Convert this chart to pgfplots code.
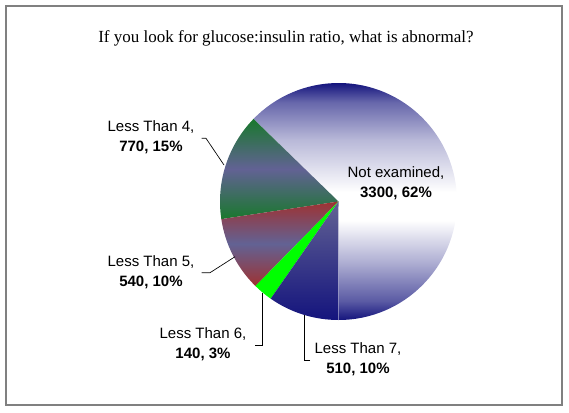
\documentclass[border=0pt]{standalone}
\usepackage{pgfplots}
\usepackage{pgfplotstable}
\pgfplotsset{compat=1.18}
\usepackage{fontspec}
\setmainfont{Liberation Sans}
\newfontfamily\titlefont{Liberation Serif}

\definecolor{navyE}{RGB}{20,20,125}
\definecolor{slateE}{RGB}{98,98,148}
\definecolor{greenE}{RGB}{25,120,45}
\definecolor{redE}{RGB}{158,50,50}
\definecolor{limeE}{RGB}{0,255,0}
\definecolor{frameE}{RGB}{128,128,128}

% navy - white - navy band, bbox mapped to 25bp..75bp
\pgfdeclareverticalshading{nebands}{100bp}{%
  color(0bp)=(navyE); color(25bp)=(navyE);
  color(29bp)=(navyE!70!white); color(37bp)=(navyE!35!white);
  color(46bp)=(white); color(52bp)=(white);
  color(63bp)=(navyE!30!white); color(71bp)=(navyE!65!white);
  color(75bp)=(navyE); color(100bp)=(navyE)}

% slices, counter-clockwise from 6 o'clock
\pgfplotstableread{
slice value
NotExamined 3300
LessThan4 770
LessThan5 540
LessThan6 140
LessThan7 510
}\piedata

% total and start/end angle of each slice
\gdef\total{0}
\pgfplotstableforeachcolumnelement{value}\of\piedata\as\v{%
  \pgfmathsetmacro\t{\total+\v}\global\let\total\t}
\gdef\cur{-90}
\pgfplotstableforeachcolumnelement{value}\of\piedata\as\v{%
  \pgfmathsetmacro\nx{\cur+360*(\v/\total)}%
  \expandafter\xdef\csname sa\pgfplotstablerow\endcsname{\cur}%
  \expandafter\xdef\csname ea\pgfplotstablerow\endcsname{\nx}%
  \global\let\cur\nx}

% one slice: row index, shading options (radius 118.5px = 88.875pt)
\newcommand\slice[2]{%
  \shade[#2] (axis cs:338.5,201.5) -- ++(\csname sa#1\endcsname:88.875pt)
    arc[start angle=\csname sa#1\endcsname, end angle=\csname ea#1\endcsname, radius=88.875pt] -- cycle;}

\begin{document}
\begin{tikzpicture}
\begin{axis}[
  hide axis,
  scale only axis,
  width=426.75pt, height=309pt,
  xmin=0, xmax=569, ymin=0, ymax=412,
  y dir=reverse,
  clip=false,
]
\path (axis cs:0,0) rectangle (axis cs:569,412);
\draw[frameE, line width=0.9pt] (axis cs:6,6) rectangle (axis cs:562,405);

\node[font=\titlefont\fontsize{12.75}{14}\selectfont] at (axis cs:286,38)
  {If you look for glucose:insulin ratio, what is abnormal?};

% pie
\slice{0}{shading=nebands}
\slice{1}{top color=greenE, bottom color=greenE, middle color=slateE}
\slice{2}{top color=redE, bottom color=redE, middle color=slateE}
\slice{3}{top color=limeE, bottom color=limeE}
\slice{4}{top color=slateE, bottom color=navyE}

% labels
\tikzset{lbl/.style={align=center, font=\fontsize{11.25}{15}\selectfont, inner sep=0pt}}
\node[lbl] at (axis cs:396,183) {Not examined,\\\textbf{3300, 62\%}};
\node[lbl] at (axis cs:151,137) {Less Than 4,\\\textbf{770, 15\%}};
\node[lbl] at (axis cs:151,272) {Less Than 5,\\\textbf{540, 10\%}};
\node[lbl] at (axis cs:203,344.5) {Less Than 6,\\\textbf{140, 3\%}};
\node[lbl] at (axis cs:358,359) {Less Than 7,\\\textbf{510, 10\%}};

% leader lines
\draw[black, line width=0.5pt] (axis cs:201.5,138.3) -- (axis cs:206,138.3) -- (axis cs:224,165);
\draw[black, line width=0.5pt] (axis cs:201.5,272.7) -- (axis cs:210,272.7) -- (axis cs:235,256.7);
\draw[black, line width=0.5pt] (axis cs:255,345) -- (axis cs:262.7,345) -- (axis cs:262.7,293);
\draw[black, line width=0.5pt] (axis cs:310,360) -- (axis cs:304.3,360) -- (axis cs:304.3,315);
\end{axis}
\end{tikzpicture}
\end{document}
